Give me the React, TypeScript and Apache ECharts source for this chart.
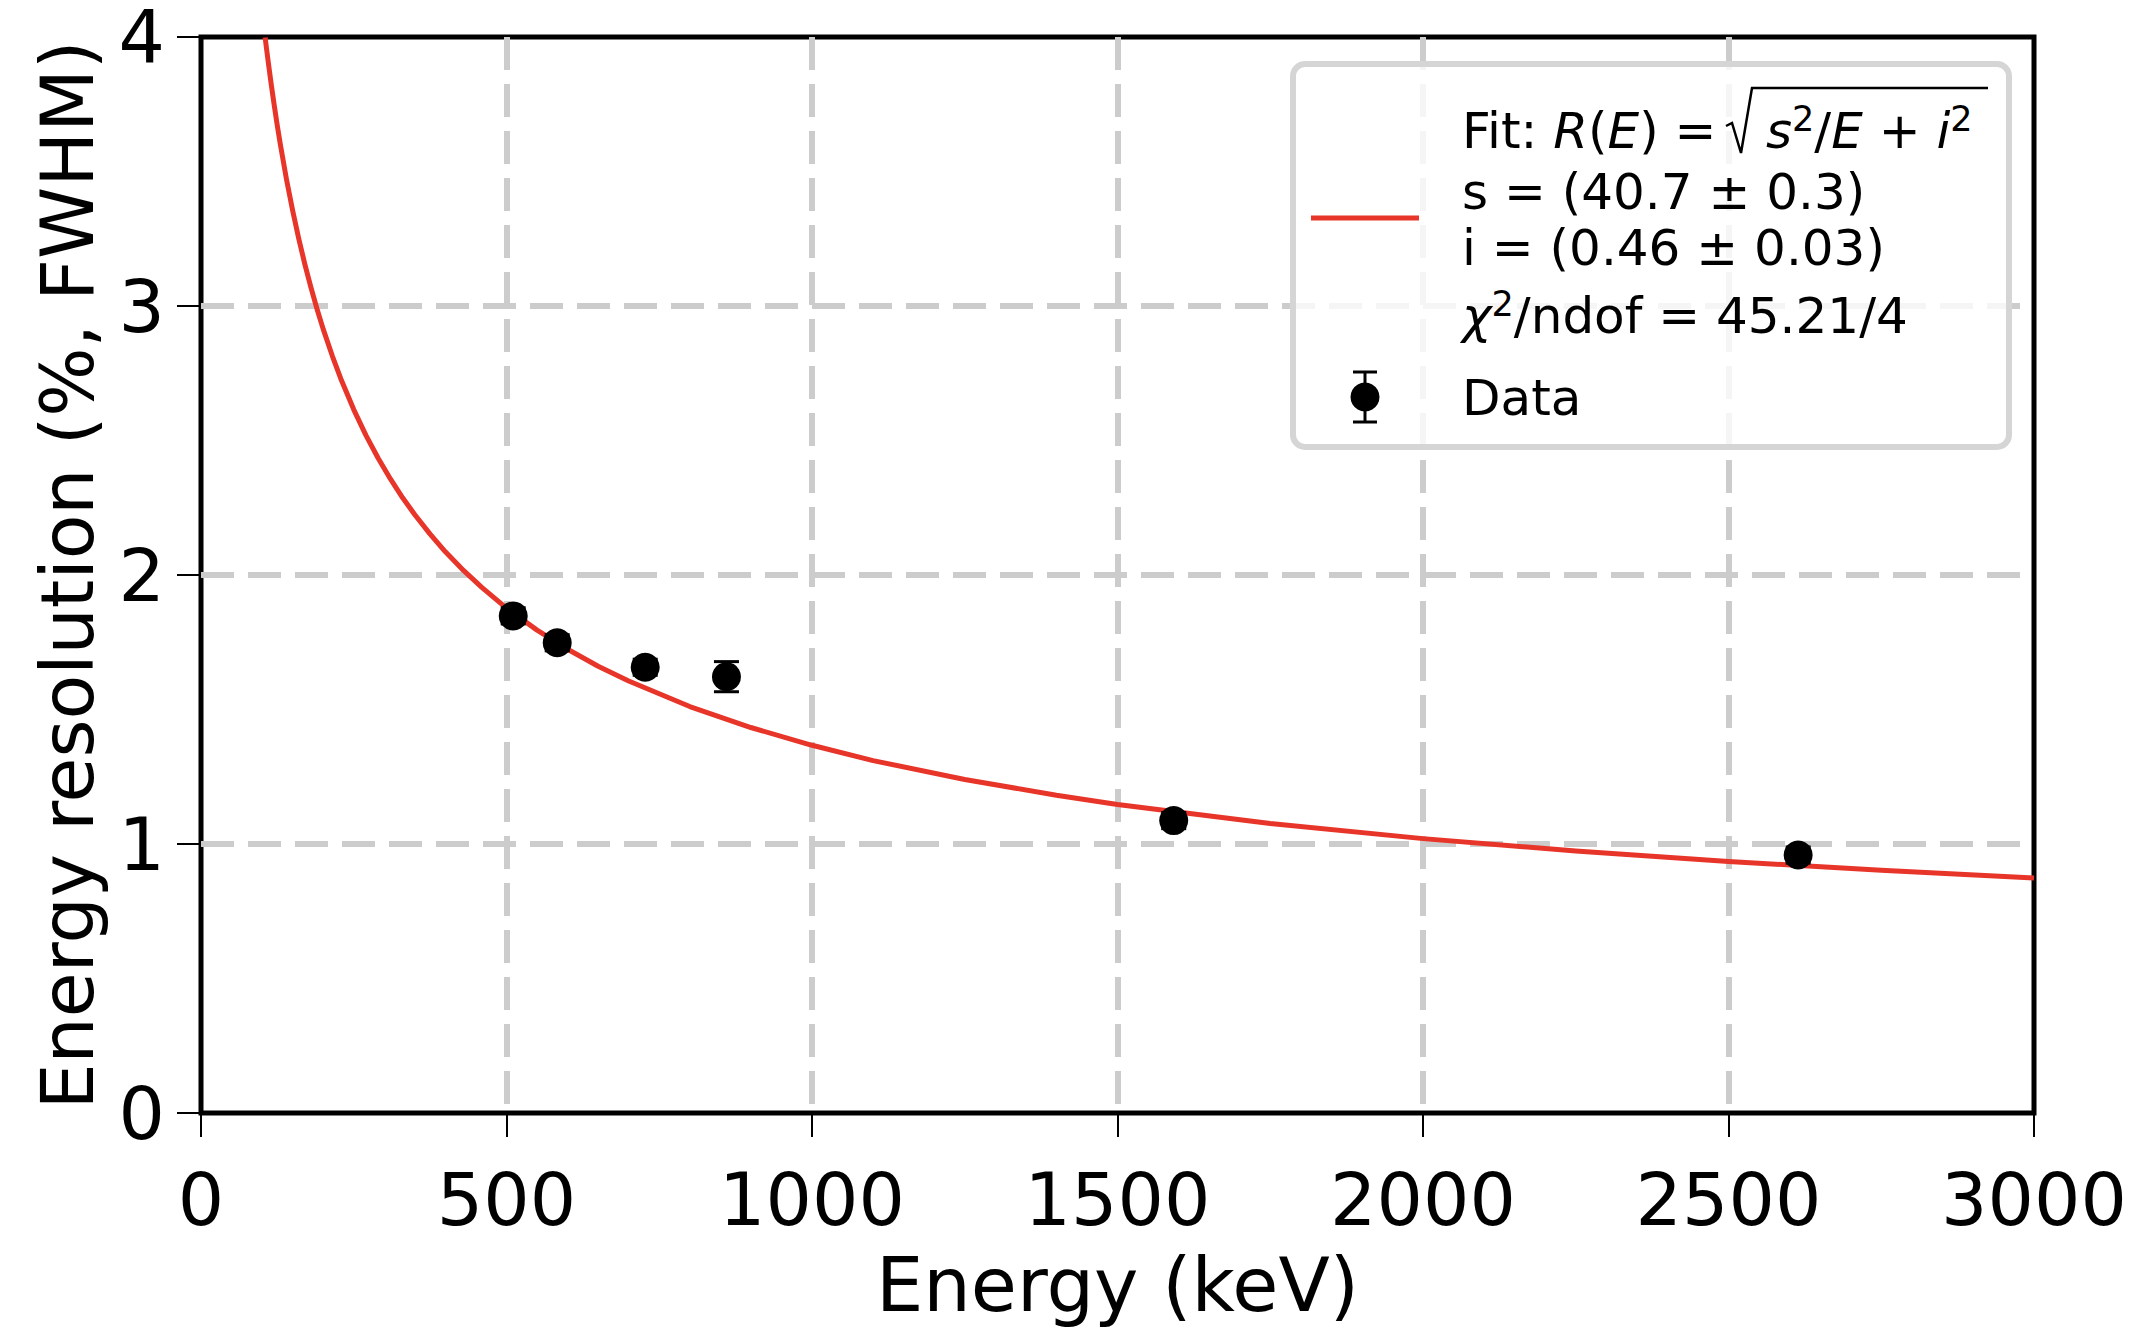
import React, { useEffect, useRef } from "react";
import * as echarts from "echarts";

// Measured data points (keV, % FWHM) and their uncertainties
const energies = [511, 583, 727, 860, 1592, 2614];
const resolution = [1.848, 1.748, 1.657, 1.622, 1.087, 0.959];
const resolutionErr = [0.03, 0.03, 0.03, 0.056, 0.03, 0.03];

// Fit curve
const curveEnergy = [105, 107, 110, 115, 120, 125, 130, 140, 150, 160, 170, 180, 190, 200, 215, 230, 250, 270, 290, 310, 330, 350, 375, 400, 430, 460, 500, 550, 600, 650, 700, 800, 900, 1000, 1100, 1250, 1400, 1500, 1750, 2000, 2250, 2500, 2750, 3000];
const curveResolution = [3.998, 3.961, 3.908, 3.823, 3.744, 3.669, 3.599, 3.47, 3.355, 3.25, 3.155, 3.068, 2.988, 2.914, 2.814, 2.723, 2.615, 2.519, 2.434, 2.357, 2.287, 2.224, 2.152, 2.086, 2.016, 1.953, 1.877, 1.795, 1.724, 1.661, 1.606, 1.511, 1.433, 1.367, 1.31, 1.24, 1.181, 1.147, 1.076, 1.02, 0.974, 0.935, 0.902, 0.874];

const xTitle = "Energy (keV)";
const yTitle = "Energy resolution (%, FWHM)";
const legendFitLead = "Fit: ";
const legendLine2 = "s = (40.7 ± 0.3)";
const legendLine3 = "i = (0.46 ± 0.03)";
const legendLine4Rest = "/ndof = 45.21/4";
const legendData = "Data";

const FONT = "DejaVu Sans";
const RED = "#e8352a";

export default function App() {
  const ref = useRef<HTMLDivElement>(null);
  useEffect(() => {
    if (!ref.current) return;
    const chart = echarts.init(ref.current, undefined, { renderer: "svg" });
    const scatterData = energies.map((e, i) => [e, resolution[i]]);
    const errData = energies.map((e, i) => [e, resolution[i], resolutionErr[i]]);
    const curveData = curveEnergy.map((e, i) => [e, curveResolution[i]]);
    const txt = (extra: any) => ({ fontFamily: FONT, fill: "#000", ...extra });
    const mathRich = {
      n: { fontFamily: FONT, fontSize: 50, fill: "#000", lineHeight: 60 },
      i: { fontFamily: FONT, fontSize: 50, fontStyle: "italic", fill: "#000", lineHeight: 60 },
      sup: { fontFamily: FONT, fontSize: 35, fill: "#000", verticalAlign: "top", lineHeight: 36 },
    };
    chart.setOption({
      animation: false,
      backgroundColor: "#fff",
      textStyle: { fontFamily: FONT },
      grid: {
        left: 201,
        top: 37,
        right: 108,
        bottom: 220,
        show: true,
        borderColor: "#000",
        borderWidth: 5,
        backgroundColor: "transparent",
      },
      xAxis: {
        type: "value",
        min: 0,
        max: 3000,
        interval: 500,
        name: xTitle,
        nameLocation: "middle",
        nameGap: 172,
        nameTextStyle: { fontSize: 75, color: "#000", fontFamily: FONT, verticalAlign: "middle" },
        axisLine: { show: false },
        axisTick: { show: true, length: 24, lineStyle: { color: "#000", width: 2 } },
        axisLabel: {
          fontSize: 73,
          color: "#000",
          margin: 50,
          fontFamily: FONT,
          formatter: (v: number) => String(v),
        },
        splitLine: {
          show: true,
          showMinLine: false,
          showMaxLine: false,
          lineStyle: { color: "#cccccc", width: 6, type: [33, 14] },
        },
      },
      yAxis: {
        type: "value",
        min: 0,
        max: 4,
        interval: 1,
        name: yTitle,
        nameLocation: "middle",
        nameGap: 134,
        nameTextStyle: { fontSize: 73, color: "#000", fontFamily: FONT, verticalAlign: "middle", lineHeight: 70 },
        axisLine: { show: false },
        axisTick: { show: true, length: 24, lineStyle: { color: "#000", width: 2 } },
        axisLabel: {
          fontSize: 73,
          color: "#000",
          margin: 36,
          fontFamily: FONT,
          lineHeight: 60,
          formatter: (v: number) => String(v),
        },
        splitLine: {
          show: true,
          showMinLine: false,
          showMaxLine: false,
          lineStyle: { color: "#cccccc", width: 6, type: [33, 14] },
        },
      },
      series: [
        {
          type: "line",
          data: curveData,
          showSymbol: false,
          smooth: false,
          clip: true,
          lineStyle: { color: RED, width: 5, join: "round" },
          z: 3,
        },
        {
          type: "custom",
          data: errData,
          z: 4,
          renderItem: (params: any, api: any) => {
            const x = api.value(0);
            const y = api.value(1);
            const e = api.value(2);
            const top = api.coord([x, y + e]);
            const bot = api.coord([x, y - e]);
            const half = 12.5;
            const st = { stroke: "#000", lineWidth: 3 };
            return {
              type: "group",
              children: [
                { type: "line", shape: { x1: top[0], y1: top[1], x2: bot[0], y2: bot[1] }, style: st },
                { type: "line", shape: { x1: top[0] - half, y1: top[1], x2: top[0] + half, y2: top[1] }, style: st },
                { type: "line", shape: { x1: bot[0] - half, y1: bot[1], x2: bot[0] + half, y2: bot[1] }, style: st },
              ],
            };
          },
        },
        {
          type: "scatter",
          data: scatterData,
          symbol: "circle",
          symbolSize: 29,
          itemStyle: { color: "#000", opacity: 1 },
          z: 5,
        },
      ],
      graphic: [
        {
          type: "rect",
          z: 100,
          shape: { x: 1293, y: 64, width: 716, height: 383, r: 12 },
          style: { fill: "rgba(255,255,255,0.8)", stroke: "#d5d5d5", lineWidth: 6 },
        },
        {
          type: "line",
          z: 101,
          shape: { x1: 1311, y1: 218, x2: 1419, y2: 218 },
          style: { stroke: RED, lineWidth: 5 },
        },
        {
          type: "text",
          z: 101,
          x: 1462,
          y: 131,
          style: txt({
            text: "{n|" + legendFitLead + "}{i|R}{n|(}{i|E}{n|) =}",
            verticalAlign: "middle",
            align: "left",
            rich: mathRich,
          }),
        },
        {
          type: "polyline",
          z: 101,
          shape: { points: [[1726, 126], [1732, 123], [1741, 153], [1752, 88], [1988, 88]] },
          style: { stroke: "#000", lineWidth: 2.5, fill: null },
        },
        {
          type: "text",
          z: 101,
          x: 1766,
          y: 131,
          style: txt({
            text: "{i|s}{sup|2}{n|/}{i|E}{n| + }{i|i}{sup|2}",
            verticalAlign: "middle",
            align: "left",
            rich: mathRich,
          }),
        },
        {
          type: "text",
          z: 101,
          x: 1462,
          y: 192,
          style: txt({ text: legendLine2, fontSize: 50, verticalAlign: "middle", align: "left" }),
        },
        {
          type: "text",
          z: 101,
          x: 1462,
          y: 248,
          style: txt({ text: legendLine3, fontSize: 50, verticalAlign: "middle", align: "left" }),
        },
        {
          type: "text",
          z: 101,
          x: 1462,
          y: 316,
          style: txt({
            text: "{i|χ}{sup|2}{n|" + legendLine4Rest + "}",
            verticalAlign: "middle",
            align: "left",
            rich: mathRich,
          }),
        },
        {
          type: "line",
          z: 101,
          shape: { x1: 1365, y1: 372, x2: 1365, y2: 422 },
          style: { stroke: "#000", lineWidth: 3 },
        },
        {
          type: "line",
          z: 101,
          shape: { x1: 1353, y1: 372, x2: 1377, y2: 372 },
          style: { stroke: "#000", lineWidth: 3 },
        },
        {
          type: "line",
          z: 101,
          shape: { x1: 1353, y1: 422, x2: 1377, y2: 422 },
          style: { stroke: "#000", lineWidth: 3 },
        },
        {
          type: "circle",
          z: 102,
          shape: { cx: 1365, cy: 397, r: 14.5 },
          style: { fill: "#000" },
        },
        {
          type: "text",
          z: 101,
          x: 1462,
          y: 398,
          style: txt({ text: legendData, fontSize: 50, verticalAlign: "middle", align: "left" }),
        },
      ],
    });
    return () => chart.dispose();
  }, []);
  return (
    <div
      ref={ref}
      style={{ position: "fixed", left: 0, top: 0, width: 2142, height: 1333, background: "#fff" }}
    />
  );
}
